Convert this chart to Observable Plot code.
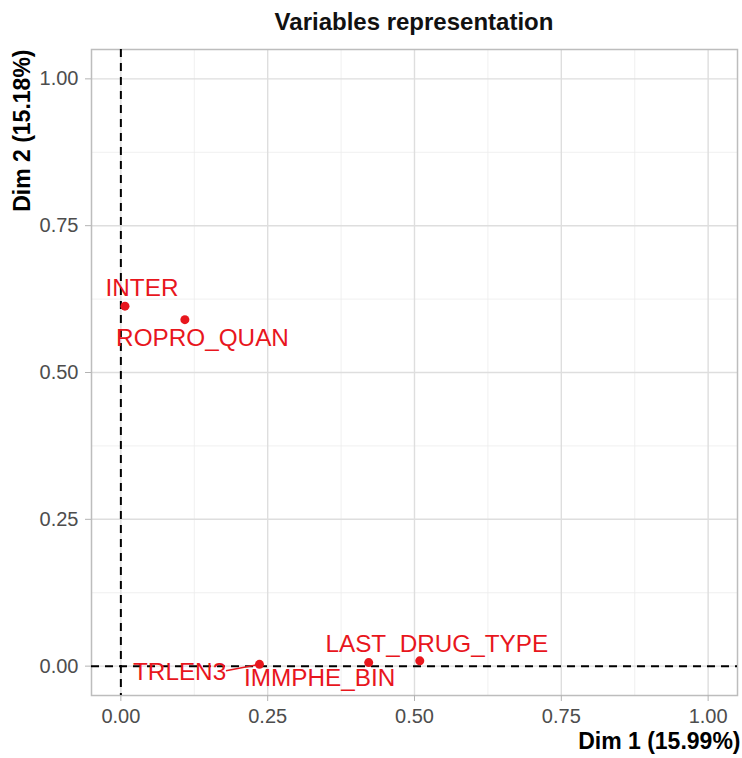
<!DOCTYPE html>
<html>
<head>
<meta charset="utf-8">
<script src="https://cdn.jsdelivr.net/npm/d3@7"></script>
<script src="https://cdn.jsdelivr.net/npm/@observablehq/plot@0.6"></script>
<style>
  body { margin: 0; background: #fff; font-family: "Liberation Sans", Arial, sans-serif; }
  #title {
    box-sizing: border-box; width: 742px; height: 42px;
    padding: 0 5px 0 91px; text-align: center;
    font-weight: bold; font-size: 24px; line-height: 44px; color: #111;
  }
</style>
</head>
<body>
<div id="title">Variables representation</div>
<div id="chart"></div>
<script>
// Squared correlation of each variable with the first two dimensions
const variables = ["INTER", "ROPRO_QUAN", "TRLEN3", "IMMPHE_BIN", "LAST_DRUG_TYPE"];
const dim1 = [0.007, 0.109, 0.236, 0.422, 0.509];
const dim2 = [0.613, 0.590, 0.003, 0.006, 0.009];

const majorTicks = [0, 0.25, 0.5, 0.75, 1];
const minorTicks = [0.125, 0.375, 0.625, 0.875];
const xTitle = "Dim 1 (15.99%)";
const yTitle = "Dim 2 (15.18%)";

// Repelled label placement, as offsets from each point in data units,
// plus the leader line end for labels pushed far from their point.
const labelLayout = {
  shiftX: [0.029, 0.030, -0.136, -0.0835, 0.029],
  shiftY: [0.030, -0.031, -0.0128, -0.0273, 0.029],
  leaderX: [null, null, -0.057, null, null],
  leaderY: [null, null, -0.011, null, null]
};

const red = "#e8161d";

const rows = variables.map((name, i) => ({
  name,
  dim1: dim1[i],
  dim2: dim2[i],
  lx: dim1[i] + labelLayout.shiftX[i],
  ly: dim2[i] + labelLayout.shiftY[i]
}));

const leaders = rows
  .map((r, i) => labelLayout.leaderX[i] == null ? null : {
    x1: r.dim1, y1: r.dim2,
    x2: r.dim1 + labelLayout.leaderX[i], y2: r.dim2 + labelLayout.leaderY[i]
  })
  .filter(Boolean);

const chart = Plot.plot({
  width: 742,
  height: 716,
  marginLeft: 91,
  marginRight: 5,
  marginTop: 7,
  marginBottom: 63,
  style: { fontFamily: "'Liberation Sans', Arial, sans-serif", background: "#fff" },
  x: { domain: [-0.05, 1.05] },
  y: { domain: [-0.05, 1.05] },
  marks: [
    // grid
    Plot.ruleX(minorTicks, { stroke: "#ececec", strokeWidth: 0.8 }),
    Plot.ruleY(minorTicks, { stroke: "#ececec", strokeWidth: 0.8 }),
    Plot.ruleX(majorTicks, { stroke: "#dedede", strokeWidth: 1.4 }),
    Plot.ruleY(majorTicks, { stroke: "#dedede", strokeWidth: 1.4 }),
    Plot.frame({ stroke: "#bdbdbd", strokeWidth: 1.5 }),
    // axes
    Plot.axisX({
      ticks: majorTicks, tickFormat: d3.format(".2f"), tickSize: 6, tickPadding: 7,
      fontSize: 20, stroke: "#b3b3b3", fill: "#4d4d4d", label: null
    }),
    Plot.axisY({
      ticks: majorTicks, tickFormat: d3.format(".2f"), tickSize: 6, tickPadding: 7,
      fontSize: 20, stroke: "#b3b3b3", fill: "#4d4d4d", label: null
    }),
    // origin reference lines
    Plot.ruleX([0], { stroke: "#000", strokeWidth: 2, strokeDasharray: "8,6" }),
    Plot.ruleY([0], { stroke: "#000", strokeWidth: 2, strokeDasharray: "8,6" }),
    // variables
    Plot.link(leaders, { x1: "x1", y1: "y1", x2: "x2", y2: "y2", stroke: red, strokeWidth: 1.5 }),
    Plot.dot(rows, { x: "dim1", y: "dim2", r: 4.5, fill: red }),
    Plot.text(rows, {
      x: "lx", y: "ly", text: "name", fill: red, fontSize: 24.3,
      textAnchor: "middle", lineAnchor: "middle"
    }),
    // axis titles
    Plot.text([xTitle], {
      frameAnchor: "bottom-right", dx: 3, dy: 46.5, textAnchor: "end", lineAnchor: "middle",
      fontWeight: "bold", fontSize: 23, fill: "#000"
    }),
    Plot.text([yTitle], {
      frameAnchor: "top-left", dx: -68.5, dy: 0, rotate: -90, textAnchor: "end", lineAnchor: "middle",
      fontWeight: "bold", fontSize: 23, fill: "#000"
    })
  ]
});

document.getElementById("chart").appendChild(chart);
</script>
</body>
</html>
